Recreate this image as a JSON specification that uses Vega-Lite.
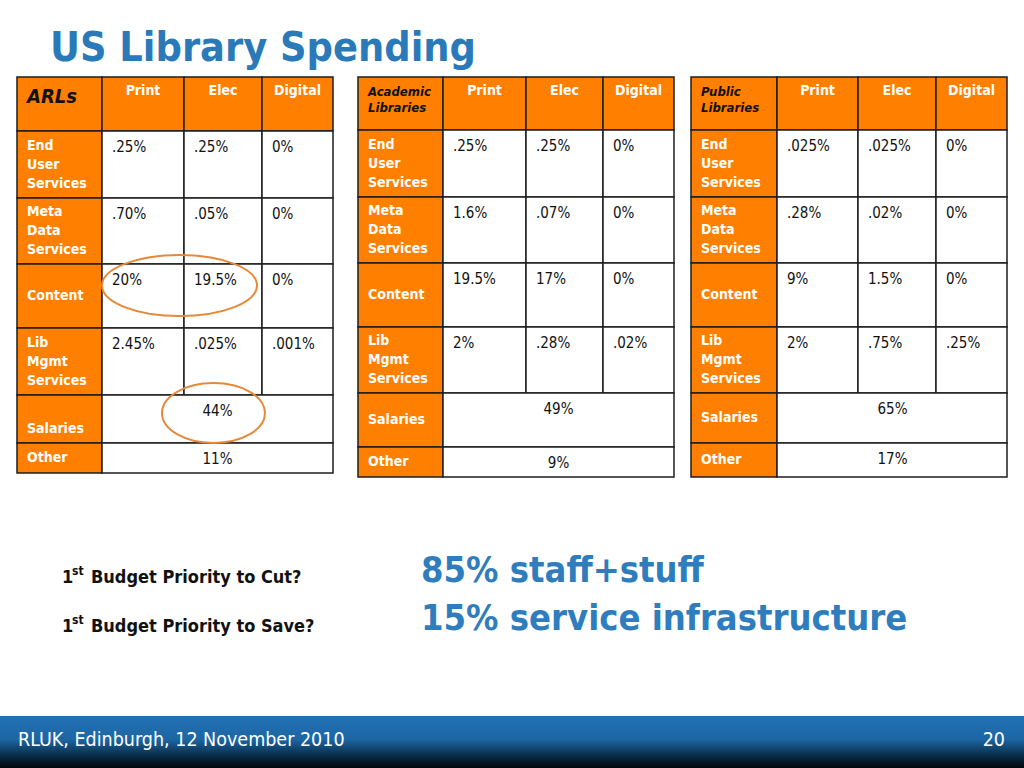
{
  "$schema": "https://vega.github.io/schema/vega-lite/v6.json",
  "width": 1024,
  "height": 768,
  "autosize": "none",
  "padding": 0,
  "background": "#ffffff",
  "config": {"view": {"stroke": null}},
  "datasets": {
    "cells": [
      {"t": "ARLs", "kind": "corner", "c0": 0, "c1": 1, "r0": 0, "r1": 1, "txt": "ARLs"},
      {"t": "ARLs", "kind": "head", "c0": 1, "c1": 2, "cm": 1.5, "r0": 0, "r1": 1, "txt": "Print"},
      {"t": "ARLs", "kind": "head", "c0": 2, "c1": 3, "cm": 2.5, "r0": 0, "r1": 1, "txt": "Elec"},
      {"t": "ARLs", "kind": "head", "c0": 3, "c1": 4, "cm": 3.5, "r0": 0, "r1": 1, "txt": "Digital"},
      {"t": "ARLs", "kind": "label", "c0": 0, "c1": 1, "r0": 1, "r1": 2, "rm": 1.5, "txt": "End\nUser\nServices"},
      {"t": "ARLs", "kind": "value", "c0": 1, "c1": 2, "r0": 1, "r1": 2, "txt": ".25%"},
      {"t": "ARLs", "kind": "value", "c0": 2, "c1": 3, "r0": 1, "r1": 2, "txt": ".25%"},
      {"t": "ARLs", "kind": "value", "c0": 3, "c1": 4, "r0": 1, "r1": 2, "txt": "0%"},
      {"t": "ARLs", "kind": "label", "c0": 0, "c1": 1, "r0": 2, "r1": 3, "rm": 2.5, "txt": "Meta\nData\nServices"},
      {"t": "ARLs", "kind": "value", "c0": 1, "c1": 2, "r0": 2, "r1": 3, "txt": ".70%"},
      {"t": "ARLs", "kind": "value", "c0": 2, "c1": 3, "r0": 2, "r1": 3, "txt": ".05%"},
      {"t": "ARLs", "kind": "value", "c0": 3, "c1": 4, "r0": 2, "r1": 3, "txt": "0%"},
      {"t": "ARLs", "kind": "label", "c0": 0, "c1": 1, "r0": 3, "r1": 4, "rm": 3.5, "txt": "Content"},
      {"t": "ARLs", "kind": "value", "c0": 1, "c1": 2, "r0": 3, "r1": 4, "txt": "20%"},
      {"t": "ARLs", "kind": "value", "c0": 2, "c1": 3, "r0": 3, "r1": 4, "txt": "19.5%"},
      {"t": "ARLs", "kind": "value", "c0": 3, "c1": 4, "r0": 3, "r1": 4, "txt": "0%"},
      {"t": "ARLs", "kind": "label", "c0": 0, "c1": 1, "r0": 4, "r1": 5, "rm": 4.5, "txt": "Lib\nMgmt\nServices"},
      {"t": "ARLs", "kind": "value", "c0": 1, "c1": 2, "r0": 4, "r1": 5, "txt": "2.45%"},
      {"t": "ARLs", "kind": "value", "c0": 2, "c1": 3, "r0": 4, "r1": 5, "txt": ".025%"},
      {"t": "ARLs", "kind": "value", "c0": 3, "c1": 4, "r0": 4, "r1": 5, "txt": ".001%"},
      {"t": "ARLs", "kind": "label", "c0": 0, "c1": 1, "r0": 5, "r1": 6, "rm": 5.5, "txt": "\nSalaries"},
      {"t": "ARLs", "kind": "merged", "c0": 1, "c1": 4, "r0": 5, "r1": 6, "txt": "44%"},
      {"t": "ARLs", "kind": "label", "c0": 0, "c1": 1, "r0": 6, "r1": 7, "rm": 6.5, "txt": "Other"},
      {"t": "ARLs", "kind": "merged", "c0": 1, "c1": 4, "r0": 6, "r1": 7, "txt": "11%"},

      {"t": "Academic", "kind": "corner", "c0": 0, "c1": 1, "r0": 0, "r1": 1, "txt": "Academic\nLibraries"},
      {"t": "Academic", "kind": "head", "c0": 1, "c1": 2, "cm": 1.5, "r0": 0, "r1": 1, "txt": "Print"},
      {"t": "Academic", "kind": "head", "c0": 2, "c1": 3, "cm": 2.5, "r0": 0, "r1": 1, "txt": "Elec"},
      {"t": "Academic", "kind": "head", "c0": 3, "c1": 4, "cm": 3.5, "r0": 0, "r1": 1, "txt": "Digital"},
      {"t": "Academic", "kind": "label", "c0": 0, "c1": 1, "r0": 1, "r1": 2, "rm": 1.5, "txt": "End\nUser\nServices"},
      {"t": "Academic", "kind": "value", "c0": 1, "c1": 2, "r0": 1, "r1": 2, "txt": ".25%"},
      {"t": "Academic", "kind": "value", "c0": 2, "c1": 3, "r0": 1, "r1": 2, "txt": ".25%"},
      {"t": "Academic", "kind": "value", "c0": 3, "c1": 4, "r0": 1, "r1": 2, "txt": "0%"},
      {"t": "Academic", "kind": "label", "c0": 0, "c1": 1, "r0": 2, "r1": 3, "rm": 2.5, "txt": "Meta\nData\nServices"},
      {"t": "Academic", "kind": "value", "c0": 1, "c1": 2, "r0": 2, "r1": 3, "txt": "1.6%"},
      {"t": "Academic", "kind": "value", "c0": 2, "c1": 3, "r0": 2, "r1": 3, "txt": ".07%"},
      {"t": "Academic", "kind": "value", "c0": 3, "c1": 4, "r0": 2, "r1": 3, "txt": "0%"},
      {"t": "Academic", "kind": "label", "c0": 0, "c1": 1, "r0": 3, "r1": 4, "rm": 3.5, "txt": "Content"},
      {"t": "Academic", "kind": "value", "c0": 1, "c1": 2, "r0": 3, "r1": 4, "txt": "19.5%"},
      {"t": "Academic", "kind": "value", "c0": 2, "c1": 3, "r0": 3, "r1": 4, "txt": "17%"},
      {"t": "Academic", "kind": "value", "c0": 3, "c1": 4, "r0": 3, "r1": 4, "txt": "0%"},
      {"t": "Academic", "kind": "label", "c0": 0, "c1": 1, "r0": 4, "r1": 5, "rm": 4.5, "txt": "Lib\nMgmt\nServices"},
      {"t": "Academic", "kind": "value", "c0": 1, "c1": 2, "r0": 4, "r1": 5, "txt": "2%"},
      {"t": "Academic", "kind": "value", "c0": 2, "c1": 3, "r0": 4, "r1": 5, "txt": ".28%"},
      {"t": "Academic", "kind": "value", "c0": 3, "c1": 4, "r0": 4, "r1": 5, "txt": ".02%"},
      {"t": "Academic", "kind": "label", "c0": 0, "c1": 1, "r0": 5, "r1": 6, "rm": 5.5, "txt": "Salaries"},
      {"t": "Academic", "kind": "merged", "c0": 1, "c1": 4, "r0": 5, "r1": 6, "txt": "49%"},
      {"t": "Academic", "kind": "label", "c0": 0, "c1": 1, "r0": 6, "r1": 7, "rm": 6.5, "txt": "Other"},
      {"t": "Academic", "kind": "merged", "c0": 1, "c1": 4, "r0": 6, "r1": 7, "txt": "9%"},

      {"t": "Public", "kind": "corner", "c0": 0, "c1": 1, "r0": 0, "r1": 1, "txt": "Public\nLibraries"},
      {"t": "Public", "kind": "head", "c0": 1, "c1": 2, "cm": 1.5, "r0": 0, "r1": 1, "txt": "Print"},
      {"t": "Public", "kind": "head", "c0": 2, "c1": 3, "cm": 2.5, "r0": 0, "r1": 1, "txt": "Elec"},
      {"t": "Public", "kind": "head", "c0": 3, "c1": 4, "cm": 3.5, "r0": 0, "r1": 1, "txt": "Digital"},
      {"t": "Public", "kind": "label", "c0": 0, "c1": 1, "r0": 1, "r1": 2, "rm": 1.5, "txt": "End\nUser\nServices"},
      {"t": "Public", "kind": "value", "c0": 1, "c1": 2, "r0": 1, "r1": 2, "txt": ".025%"},
      {"t": "Public", "kind": "value", "c0": 2, "c1": 3, "r0": 1, "r1": 2, "txt": ".025%"},
      {"t": "Public", "kind": "value", "c0": 3, "c1": 4, "r0": 1, "r1": 2, "txt": "0%"},
      {"t": "Public", "kind": "label", "c0": 0, "c1": 1, "r0": 2, "r1": 3, "rm": 2.5, "txt": "Meta\nData\nServices"},
      {"t": "Public", "kind": "value", "c0": 1, "c1": 2, "r0": 2, "r1": 3, "txt": ".28%"},
      {"t": "Public", "kind": "value", "c0": 2, "c1": 3, "r0": 2, "r1": 3, "txt": ".02%"},
      {"t": "Public", "kind": "value", "c0": 3, "c1": 4, "r0": 2, "r1": 3, "txt": "0%"},
      {"t": "Public", "kind": "label", "c0": 0, "c1": 1, "r0": 3, "r1": 4, "rm": 3.5, "txt": "Content"},
      {"t": "Public", "kind": "value", "c0": 1, "c1": 2, "r0": 3, "r1": 4, "txt": "9%"},
      {"t": "Public", "kind": "value", "c0": 2, "c1": 3, "r0": 3, "r1": 4, "txt": "1.5%"},
      {"t": "Public", "kind": "value", "c0": 3, "c1": 4, "r0": 3, "r1": 4, "txt": "0%"},
      {"t": "Public", "kind": "label", "c0": 0, "c1": 1, "r0": 4, "r1": 5, "rm": 4.5, "txt": "Lib\nMgmt\nServices"},
      {"t": "Public", "kind": "value", "c0": 1, "c1": 2, "r0": 4, "r1": 5, "txt": "2%"},
      {"t": "Public", "kind": "value", "c0": 2, "c1": 3, "r0": 4, "r1": 5, "txt": ".75%"},
      {"t": "Public", "kind": "value", "c0": 3, "c1": 4, "r0": 4, "r1": 5, "txt": ".25%"},
      {"t": "Public", "kind": "label", "c0": 0, "c1": 1, "r0": 5, "r1": 6, "rm": 5.5, "txt": "Salaries"},
      {"t": "Public", "kind": "merged", "c0": 1, "c1": 4, "r0": 5, "r1": 6, "txt": "65%"},
      {"t": "Public", "kind": "label", "c0": 0, "c1": 1, "r0": 6, "r1": 7, "rm": 6.5, "txt": "Other"},
      {"t": "Public", "kind": "merged", "c0": 1, "c1": 4, "r0": 6, "r1": 7, "txt": "17%"}
    ],
    "rings": [
      {"t": "ARLs", "ring": "Content print and elec", "cx": 1.945, "cy": 3.336},
      {"t": "ARLs", "ring": "Salaries", "cx": 2.378, "cy": 5.375}
    ],
    "slide": [
      {"role": "bar", "gx": 0, "gx2": 8, "gy": 6, "gy2": 8},
      {"role": "title", "txt": "US Library Spending", "gx": 2, "gy": 1},
      {"role": "lead", "txt": "1", "gx": 3, "gy": 3},
      {"role": "sup", "txt": "st", "gx": 4, "gy": 3},
      {"role": "lead", "txt": "Budget Priority to Cut?", "gx": 5, "gy": 3},
      {"role": "lead", "txt": "1", "gx": 3, "gy": 5},
      {"role": "sup", "txt": "st", "gx": 4, "gy": 5},
      {"role": "lead", "txt": "Budget Priority to Save?", "gx": 5, "gy": 5},
      {"role": "big", "txt": "85% staff+stuff", "gx": 6, "gy": 2},
      {"role": "big", "txt": "15% service infrastructure", "gx": 6, "gy": 4},
      {"role": "foot", "txt": "RLUK, Edinburgh, 12 November 2010", "gx": 1, "gy": 7},
      {"role": "page", "txt": "20", "gx": 7, "gy": 7}
    ]
  },
  "layer": [
    {
      "data": {"name": "cells"},
      "transform": [{"filter": {"field": "t", "equal": "ARLs"}}],
      "layer": [
        {
          "mark": {"type": "rect", "stroke": "#1e1e1e", "strokeWidth": 1.5},
          "encoding": {
            "x": {"field": "c0", "type": "quantitative", "scale": {"domain": [0, 1, 2, 3, 4], "range": [17, 102, 184, 262, 333], "nice": false, "zero": false}, "axis": null},
            "x2": {"field": "c1"},
            "y": {"field": "r0", "type": "quantitative", "scale": {"domain": [0, 1, 2, 3, 4, 5, 6, 7], "range": [77, 131, 198, 264, 328, 395, 443, 473], "nice": false, "zero": false}, "axis": null},
            "y2": {"field": "r1"},
            "fill": {"field": "kind", "type": "nominal", "scale": {"domain": ["corner", "head", "label", "value", "merged"], "range": ["#FF7F00", "#FF7F00", "#FF7F00", "#ffffff", "#ffffff"]}, "legend": null}
          }
        },
        {
          "transform": [{"filter": {"field": "kind", "equal": "head"}}],
          "mark": {"type": "text", "font": "DejaVu Sans Condensed, DejaVu Sans, sans-serif", "fontWeight": "bold", "fontSize": 14, "color": "#ffffff", "align": "center", "baseline": "top", "dy": 7},
          "encoding": {
            "x": {"field": "cm", "type": "quantitative", "scale": {"domain": [0, 1, 2, 3, 4], "range": [17, 102, 184, 262, 333], "nice": false, "zero": false}, "axis": null},
            "y": {"field": "r0", "type": "quantitative", "scale": {"domain": [0, 1, 2, 3, 4, 5, 6, 7], "range": [77, 131, 198, 264, 328, 395, 443, 473], "nice": false, "zero": false}, "axis": null},
            "text": {"field": "txt"}
          }
        },
        {
          "transform": [{"filter": {"and": [{"field": "kind", "equal": "label"}, {"field": "txt", "oneOf": ["Content", "Salaries", "Other"]}]}}],
          "mark": {"type": "text", "font": "DejaVu Sans Condensed, DejaVu Sans, sans-serif", "fontWeight": "bold", "fontSize": 14, "color": "#ffffff", "align": "left", "baseline": "middle", "dx": 10, "lineBreak": "\n", "lineHeight": 19},
          "encoding": {
            "x": {"field": "c0", "type": "quantitative", "scale": {"domain": [0, 1, 2, 3, 4], "range": [17, 102, 184, 262, 333], "nice": false, "zero": false}, "axis": null},
            "y": {"field": "rm", "type": "quantitative", "scale": {"domain": [0, 1, 2, 3, 4, 5, 6, 7], "range": [77, 131, 198, 264, 328, 395, 443, 473], "nice": false, "zero": false}, "axis": null},
            "text": {"field": "txt"}
          }
        },
        {
          "transform": [{"filter": {"and": [{"field": "kind", "equal": "label"}, {"field": "txt", "equal": "\nSalaries"}]}}],
          "mark": {"type": "text", "font": "DejaVu Sans Condensed, DejaVu Sans, sans-serif", "fontWeight": "bold", "fontSize": 14, "color": "#ffffff", "align": "left", "baseline": "middle", "dx": 10, "dy": -9.5, "lineBreak": "\n", "lineHeight": 19},
          "encoding": {
            "x": {"field": "c0", "type": "quantitative", "scale": {"domain": [0, 1, 2, 3, 4], "range": [17, 102, 184, 262, 333], "nice": false, "zero": false}, "axis": null},
            "y": {"field": "rm", "type": "quantitative", "scale": {"domain": [0, 1, 2, 3, 4, 5, 6, 7], "range": [77, 131, 198, 264, 328, 395, 443, 473], "nice": false, "zero": false}, "axis": null},
            "text": {"field": "txt"}
          }
        },
        {
          "transform": [{"filter": {"and": [{"field": "kind", "equal": "label"}, {"field": "txt", "oneOf": ["End\nUser\nServices", "Meta\nData\nServices", "Lib\nMgmt\nServices"]}]}}],
          "mark": {"type": "text", "font": "DejaVu Sans Condensed, DejaVu Sans, sans-serif", "fontWeight": "bold", "fontSize": 14, "color": "#ffffff", "align": "left", "baseline": "middle", "dx": 10, "dy": -19, "lineBreak": "\n", "lineHeight": 19},
          "encoding": {
            "x": {"field": "c0", "type": "quantitative", "scale": {"domain": [0, 1, 2, 3, 4], "range": [17, 102, 184, 262, 333], "nice": false, "zero": false}, "axis": null},
            "y": {"field": "rm", "type": "quantitative", "scale": {"domain": [0, 1, 2, 3, 4, 5, 6, 7], "range": [77, 131, 198, 264, 328, 395, 443, 473], "nice": false, "zero": false}, "axis": null},
            "text": {"field": "txt"}
          }
        },
        {
          "transform": [{"filter": {"field": "kind", "equal": "value"}}],
          "mark": {"type": "text", "font": "DejaVu Sans Condensed, DejaVu Sans, sans-serif", "fontSize": 15, "color": "#111111", "align": "left", "baseline": "top", "dx": 10, "dy": 8.5},
          "encoding": {
            "x": {"field": "c0", "type": "quantitative", "scale": {"domain": [0, 1, 2, 3, 4], "range": [17, 102, 184, 262, 333], "nice": false, "zero": false}, "axis": null},
            "y": {"field": "r0", "type": "quantitative", "scale": {"domain": [0, 1, 2, 3, 4, 5, 6, 7], "range": [77, 131, 198, 264, 328, 395, 443, 473], "nice": false, "zero": false}, "axis": null},
            "text": {"field": "txt"}
          }
        },
        {
          "transform": [{"filter": {"field": "kind", "equal": "merged"}}],
          "mark": {"type": "text", "font": "DejaVu Sans Condensed, DejaVu Sans, sans-serif", "fontSize": 15, "color": "#111111", "align": "center", "baseline": "top", "dx": 115.5, "dy": 8.5},
          "encoding": {
            "x": {"field": "c0", "type": "quantitative", "scale": {"domain": [0, 1, 2, 3, 4], "range": [17, 102, 184, 262, 333], "nice": false, "zero": false}, "axis": null},
            "y": {"field": "r0", "type": "quantitative", "scale": {"domain": [0, 1, 2, 3, 4, 5, 6, 7], "range": [77, 131, 198, 264, 328, 395, 443, 473], "nice": false, "zero": false}, "axis": null},
            "text": {"field": "txt"}
          }
        },
        {
          "transform": [{"filter": {"field": "kind", "equal": "corner"}}],
          "mark": {"type": "text", "font": "DejaVu Sans Condensed, DejaVu Sans, sans-serif", "fontWeight": "bold", "fontStyle": "italic", "fontSize": 20, "color": "#111111", "align": "left", "baseline": "alphabetic", "dx": 10, "dy": 26},
          "encoding": {
            "x": {"field": "c0", "type": "quantitative", "scale": {"domain": [0, 1, 2, 3, 4], "range": [17, 102, 184, 262, 333], "nice": false, "zero": false}, "axis": null},
            "y": {"field": "r0", "type": "quantitative", "scale": {"domain": [0, 1, 2, 3, 4, 5, 6, 7], "range": [77, 131, 198, 264, 328, 395, 443, 473], "nice": false, "zero": false}, "axis": null},
            "text": {"field": "txt"}
          }
        },
        {
          "data": {"name": "rings"},
          "transform": [{"filter": {"field": "ring", "equal": "Content print and elec"}}],
          "mark": {"type": "point", "filled": false, "opacity": 1, "stroke": "#E5893B", "strokeWidth": 2, "size": 24025, "shape": "M -1 0 A 1 0.394 0 1 1 1 0 A 1 0.394 0 1 1 -1 0 Z"},
          "encoding": {
            "x": {"field": "cx", "type": "quantitative", "scale": {"domain": [0, 1, 2, 3, 4], "range": [17, 102, 184, 262, 333], "nice": false, "zero": false}, "axis": null},
            "y": {"field": "cy", "type": "quantitative", "scale": {"domain": [0, 1, 2, 3, 4, 5, 6, 7], "range": [77, 131, 198, 264, 328, 395, 443, 473], "nice": false, "zero": false}, "axis": null}
          }
        },
        {
          "data": {"name": "rings"},
          "transform": [{"filter": {"field": "ring", "equal": "Salaries"}}],
          "mark": {"type": "point", "filled": false, "opacity": 1, "stroke": "#E5893B", "strokeWidth": 2, "size": 10609, "shape": "M -1 0 A 1 0.583 0 1 1 1 0 A 1 0.583 0 1 1 -1 0 Z"},
          "encoding": {
            "x": {"field": "cx", "type": "quantitative", "scale": {"domain": [0, 1, 2, 3, 4], "range": [17, 102, 184, 262, 333], "nice": false, "zero": false}, "axis": null},
            "y": {"field": "cy", "type": "quantitative", "scale": {"domain": [0, 1, 2, 3, 4, 5, 6, 7], "range": [77, 131, 198, 264, 328, 395, 443, 473], "nice": false, "zero": false}, "axis": null}
          }
        }
      ]
    },
    {
      "data": {"name": "cells"},
      "transform": [{"filter": {"field": "t", "equal": "Academic"}}],
      "layer": [
        {
          "mark": {"type": "rect", "stroke": "#1e1e1e", "strokeWidth": 1.5},
          "encoding": {
            "x": {"field": "c0", "type": "quantitative", "scale": {"domain": [0, 1, 2, 3, 4], "range": [358, 443, 526, 603, 674], "nice": false, "zero": false}, "axis": null},
            "x2": {"field": "c1"},
            "y": {"field": "r0", "type": "quantitative", "scale": {"domain": [0, 1, 2, 3, 4, 5, 6, 7], "range": [77, 130, 197, 263, 327, 393, 447, 477], "nice": false, "zero": false}, "axis": null},
            "y2": {"field": "r1"},
            "fill": {"field": "kind", "type": "nominal", "scale": {"domain": ["corner", "head", "label", "value", "merged"], "range": ["#FF7F00", "#FF7F00", "#FF7F00", "#ffffff", "#ffffff"]}, "legend": null}
          }
        },
        {
          "transform": [{"filter": {"field": "kind", "equal": "head"}}],
          "mark": {"type": "text", "font": "DejaVu Sans Condensed, DejaVu Sans, sans-serif", "fontWeight": "bold", "fontSize": 14, "color": "#ffffff", "align": "center", "baseline": "top", "dy": 7},
          "encoding": {
            "x": {"field": "cm", "type": "quantitative", "scale": {"domain": [0, 1, 2, 3, 4], "range": [358, 443, 526, 603, 674], "nice": false, "zero": false}, "axis": null},
            "y": {"field": "r0", "type": "quantitative", "scale": {"domain": [0, 1, 2, 3, 4, 5, 6, 7], "range": [77, 130, 197, 263, 327, 393, 447, 477], "nice": false, "zero": false}, "axis": null},
            "text": {"field": "txt"}
          }
        },
        {
          "transform": [{"filter": {"and": [{"field": "kind", "equal": "label"}, {"field": "txt", "oneOf": ["Content", "Salaries", "Other"]}]}}],
          "mark": {"type": "text", "font": "DejaVu Sans Condensed, DejaVu Sans, sans-serif", "fontWeight": "bold", "fontSize": 14, "color": "#ffffff", "align": "left", "baseline": "middle", "dx": 10, "lineBreak": "\n", "lineHeight": 19},
          "encoding": {
            "x": {"field": "c0", "type": "quantitative", "scale": {"domain": [0, 1, 2, 3, 4], "range": [358, 443, 526, 603, 674], "nice": false, "zero": false}, "axis": null},
            "y": {"field": "rm", "type": "quantitative", "scale": {"domain": [0, 1, 2, 3, 4, 5, 6, 7], "range": [77, 130, 197, 263, 327, 393, 447, 477], "nice": false, "zero": false}, "axis": null},
            "text": {"field": "txt"}
          }
        },
        {
          "transform": [{"filter": {"and": [{"field": "kind", "equal": "label"}, {"field": "txt", "oneOf": ["End\nUser\nServices", "Meta\nData\nServices", "Lib\nMgmt\nServices"]}]}}],
          "mark": {"type": "text", "font": "DejaVu Sans Condensed, DejaVu Sans, sans-serif", "fontWeight": "bold", "fontSize": 14, "color": "#ffffff", "align": "left", "baseline": "middle", "dx": 10, "dy": -19, "lineBreak": "\n", "lineHeight": 19},
          "encoding": {
            "x": {"field": "c0", "type": "quantitative", "scale": {"domain": [0, 1, 2, 3, 4], "range": [358, 443, 526, 603, 674], "nice": false, "zero": false}, "axis": null},
            "y": {"field": "rm", "type": "quantitative", "scale": {"domain": [0, 1, 2, 3, 4, 5, 6, 7], "range": [77, 130, 197, 263, 327, 393, 447, 477], "nice": false, "zero": false}, "axis": null},
            "text": {"field": "txt"}
          }
        },
        {
          "transform": [{"filter": {"field": "kind", "equal": "value"}}],
          "mark": {"type": "text", "font": "DejaVu Sans Condensed, DejaVu Sans, sans-serif", "fontSize": 15, "color": "#111111", "align": "left", "baseline": "top", "dx": 10, "dy": 8.5},
          "encoding": {
            "x": {"field": "c0", "type": "quantitative", "scale": {"domain": [0, 1, 2, 3, 4], "range": [358, 443, 526, 603, 674], "nice": false, "zero": false}, "axis": null},
            "y": {"field": "r0", "type": "quantitative", "scale": {"domain": [0, 1, 2, 3, 4, 5, 6, 7], "range": [77, 130, 197, 263, 327, 393, 447, 477], "nice": false, "zero": false}, "axis": null},
            "text": {"field": "txt"}
          }
        },
        {
          "transform": [{"filter": {"field": "kind", "equal": "merged"}}],
          "mark": {"type": "text", "font": "DejaVu Sans Condensed, DejaVu Sans, sans-serif", "fontSize": 15, "color": "#111111", "align": "center", "baseline": "top", "dx": 115.5, "dy": 8.5},
          "encoding": {
            "x": {"field": "c0", "type": "quantitative", "scale": {"domain": [0, 1, 2, 3, 4], "range": [358, 443, 526, 603, 674], "nice": false, "zero": false}, "axis": null},
            "y": {"field": "r0", "type": "quantitative", "scale": {"domain": [0, 1, 2, 3, 4, 5, 6, 7], "range": [77, 130, 197, 263, 327, 393, 447, 477], "nice": false, "zero": false}, "axis": null},
            "text": {"field": "txt"}
          }
        },
        {
          "transform": [{"filter": {"field": "kind", "equal": "corner"}}],
          "mark": {"type": "text", "font": "DejaVu Sans Condensed, DejaVu Sans, sans-serif", "fontWeight": "bold", "fontStyle": "italic", "fontSize": 13, "color": "#111111", "align": "left", "baseline": "alphabetic", "dx": 10, "dy": 18.5, "lineBreak": "\n", "lineHeight": 16.5},
          "encoding": {
            "x": {"field": "c0", "type": "quantitative", "scale": {"domain": [0, 1, 2, 3, 4], "range": [358, 443, 526, 603, 674], "nice": false, "zero": false}, "axis": null},
            "y": {"field": "r0", "type": "quantitative", "scale": {"domain": [0, 1, 2, 3, 4, 5, 6, 7], "range": [77, 130, 197, 263, 327, 393, 447, 477], "nice": false, "zero": false}, "axis": null},
            "text": {"field": "txt"}
          }
        }
      ]
    },
    {
      "data": {"name": "cells"},
      "transform": [{"filter": {"field": "t", "equal": "Public"}}],
      "layer": [
        {
          "mark": {"type": "rect", "stroke": "#1e1e1e", "strokeWidth": 1.5},
          "encoding": {
            "x": {"field": "c0", "type": "quantitative", "scale": {"domain": [0, 1, 2, 3, 4], "range": [691, 777, 858, 936, 1007], "nice": false, "zero": false}, "axis": null},
            "x2": {"field": "c1"},
            "y": {"field": "r0", "type": "quantitative", "scale": {"domain": [0, 1, 2, 3, 4, 5, 6, 7], "range": [77, 130, 197, 263, 327, 393, 443, 477], "nice": false, "zero": false}, "axis": null},
            "y2": {"field": "r1"},
            "fill": {"field": "kind", "type": "nominal", "scale": {"domain": ["corner", "head", "label", "value", "merged"], "range": ["#FF7F00", "#FF7F00", "#FF7F00", "#ffffff", "#ffffff"]}, "legend": null}
          }
        },
        {
          "transform": [{"filter": {"field": "kind", "equal": "head"}}],
          "mark": {"type": "text", "font": "DejaVu Sans Condensed, DejaVu Sans, sans-serif", "fontWeight": "bold", "fontSize": 14, "color": "#ffffff", "align": "center", "baseline": "top", "dy": 7},
          "encoding": {
            "x": {"field": "cm", "type": "quantitative", "scale": {"domain": [0, 1, 2, 3, 4], "range": [691, 777, 858, 936, 1007], "nice": false, "zero": false}, "axis": null},
            "y": {"field": "r0", "type": "quantitative", "scale": {"domain": [0, 1, 2, 3, 4, 5, 6, 7], "range": [77, 130, 197, 263, 327, 393, 443, 477], "nice": false, "zero": false}, "axis": null},
            "text": {"field": "txt"}
          }
        },
        {
          "transform": [{"filter": {"and": [{"field": "kind", "equal": "label"}, {"field": "txt", "oneOf": ["Content", "Salaries", "Other"]}]}}],
          "mark": {"type": "text", "font": "DejaVu Sans Condensed, DejaVu Sans, sans-serif", "fontWeight": "bold", "fontSize": 14, "color": "#ffffff", "align": "left", "baseline": "middle", "dx": 10, "lineBreak": "\n", "lineHeight": 19},
          "encoding": {
            "x": {"field": "c0", "type": "quantitative", "scale": {"domain": [0, 1, 2, 3, 4], "range": [691, 777, 858, 936, 1007], "nice": false, "zero": false}, "axis": null},
            "y": {"field": "rm", "type": "quantitative", "scale": {"domain": [0, 1, 2, 3, 4, 5, 6, 7], "range": [77, 130, 197, 263, 327, 393, 443, 477], "nice": false, "zero": false}, "axis": null},
            "text": {"field": "txt"}
          }
        },
        {
          "transform": [{"filter": {"and": [{"field": "kind", "equal": "label"}, {"field": "txt", "oneOf": ["End\nUser\nServices", "Meta\nData\nServices", "Lib\nMgmt\nServices"]}]}}],
          "mark": {"type": "text", "font": "DejaVu Sans Condensed, DejaVu Sans, sans-serif", "fontWeight": "bold", "fontSize": 14, "color": "#ffffff", "align": "left", "baseline": "middle", "dx": 10, "dy": -19, "lineBreak": "\n", "lineHeight": 19},
          "encoding": {
            "x": {"field": "c0", "type": "quantitative", "scale": {"domain": [0, 1, 2, 3, 4], "range": [691, 777, 858, 936, 1007], "nice": false, "zero": false}, "axis": null},
            "y": {"field": "rm", "type": "quantitative", "scale": {"domain": [0, 1, 2, 3, 4, 5, 6, 7], "range": [77, 130, 197, 263, 327, 393, 443, 477], "nice": false, "zero": false}, "axis": null},
            "text": {"field": "txt"}
          }
        },
        {
          "transform": [{"filter": {"field": "kind", "equal": "value"}}],
          "mark": {"type": "text", "font": "DejaVu Sans Condensed, DejaVu Sans, sans-serif", "fontSize": 15, "color": "#111111", "align": "left", "baseline": "top", "dx": 10, "dy": 8.5},
          "encoding": {
            "x": {"field": "c0", "type": "quantitative", "scale": {"domain": [0, 1, 2, 3, 4], "range": [691, 777, 858, 936, 1007], "nice": false, "zero": false}, "axis": null},
            "y": {"field": "r0", "type": "quantitative", "scale": {"domain": [0, 1, 2, 3, 4, 5, 6, 7], "range": [77, 130, 197, 263, 327, 393, 443, 477], "nice": false, "zero": false}, "axis": null},
            "text": {"field": "txt"}
          }
        },
        {
          "transform": [{"filter": {"field": "kind", "equal": "merged"}}],
          "mark": {"type": "text", "font": "DejaVu Sans Condensed, DejaVu Sans, sans-serif", "fontSize": 15, "color": "#111111", "align": "center", "baseline": "top", "dx": 115.5, "dy": 8.5},
          "encoding": {
            "x": {"field": "c0", "type": "quantitative", "scale": {"domain": [0, 1, 2, 3, 4], "range": [691, 777, 858, 936, 1007], "nice": false, "zero": false}, "axis": null},
            "y": {"field": "r0", "type": "quantitative", "scale": {"domain": [0, 1, 2, 3, 4, 5, 6, 7], "range": [77, 130, 197, 263, 327, 393, 443, 477], "nice": false, "zero": false}, "axis": null},
            "text": {"field": "txt"}
          }
        },
        {
          "transform": [{"filter": {"field": "kind", "equal": "corner"}}],
          "mark": {"type": "text", "font": "DejaVu Sans Condensed, DejaVu Sans, sans-serif", "fontWeight": "bold", "fontStyle": "italic", "fontSize": 13, "color": "#111111", "align": "left", "baseline": "alphabetic", "dx": 10, "dy": 18.5, "lineBreak": "\n", "lineHeight": 16.5},
          "encoding": {
            "x": {"field": "c0", "type": "quantitative", "scale": {"domain": [0, 1, 2, 3, 4], "range": [691, 777, 858, 936, 1007], "nice": false, "zero": false}, "axis": null},
            "y": {"field": "r0", "type": "quantitative", "scale": {"domain": [0, 1, 2, 3, 4, 5, 6, 7], "range": [77, 130, 197, 263, 327, 393, 443, 477], "nice": false, "zero": false}, "axis": null},
            "text": {"field": "txt"}
          }
        }
      ]
    },
    {
      "data": {"name": "slide"},
      "layer": [
        {
          "transform": [{"filter": {"field": "role", "equal": "bar"}}],
          "mark": {"type": "rect", "color": {"gradient": "linear", "x1": 0, "y1": 0, "x2": 0, "y2": 1, "stops": [{"offset": 0, "color": "#2272B4"}, {"offset": 0.45, "color": "#1C66A4"}, {"offset": 0.75, "color": "#0A2E4A"}, {"offset": 1, "color": "#01070C"}]}},
          "encoding": {
            "x": {"field": "gx", "type": "quantitative", "scale": {"domain": [0, 1, 2, 3, 4, 5, 6, 7, 8], "range": [0, 18, 50, 62, 72, 91, 421, 1005, 1024], "nice": false, "zero": false}, "axis": null},
            "x2": {"field": "gx2"},
            "y": {"field": "gy", "type": "quantitative", "scale": {"domain": [0, 1, 2, 3, 4, 5, 6, 7, 8], "range": [0, 61, 582, 582.5, 630, 632, 716, 746, 768], "nice": false, "zero": false}, "axis": null},
            "y2": {"field": "gy2"}
          }
        },
        {
          "transform": [{"filter": {"field": "role", "equal": "title"}}],
          "mark": {"type": "text", "font": "DejaVu Sans Condensed, DejaVu Sans, sans-serif", "fontWeight": "bold", "fontSize": 41, "color": "#2A7AB9", "align": "left", "baseline": "alphabetic"},
          "encoding": {
            "x": {"field": "gx", "type": "quantitative", "scale": {"domain": [0, 1, 2, 3, 4, 5, 6, 7, 8], "range": [0, 18, 50, 62, 72, 91, 421, 1005, 1024], "nice": false, "zero": false}, "axis": null},
            "y": {"field": "gy", "type": "quantitative", "scale": {"domain": [0, 1, 2, 3, 4, 5, 6, 7, 8], "range": [0, 61, 582, 582.5, 630, 632, 716, 746, 768], "nice": false, "zero": false}, "axis": null},
            "text": {"field": "txt"}
          }
        },
        {
          "transform": [{"filter": {"field": "role", "equal": "lead"}}],
          "mark": {"type": "text", "font": "DejaVu Sans Condensed, DejaVu Sans, sans-serif", "fontWeight": "bold", "fontSize": 18, "color": "#111111", "align": "left", "baseline": "alphabetic"},
          "encoding": {
            "x": {"field": "gx", "type": "quantitative", "scale": {"domain": [0, 1, 2, 3, 4, 5, 6, 7, 8], "range": [0, 18, 50, 62, 72, 91, 421, 1005, 1024], "nice": false, "zero": false}, "axis": null},
            "y": {"field": "gy", "type": "quantitative", "scale": {"domain": [0, 1, 2, 3, 4, 5, 6, 7, 8], "range": [0, 61, 582, 582.5, 630, 632, 716, 746, 768], "nice": false, "zero": false}, "axis": null},
            "text": {"field": "txt"}
          }
        },
        {
          "transform": [{"filter": {"field": "role", "equal": "sup"}}],
          "mark": {"type": "text", "font": "DejaVu Sans Condensed, DejaVu Sans, sans-serif", "fontWeight": "bold", "fontSize": 12, "color": "#111111", "align": "left", "baseline": "alphabetic", "dy": -8},
          "encoding": {
            "x": {"field": "gx", "type": "quantitative", "scale": {"domain": [0, 1, 2, 3, 4, 5, 6, 7, 8], "range": [0, 18, 50, 62, 72, 91, 421, 1005, 1024], "nice": false, "zero": false}, "axis": null},
            "y": {"field": "gy", "type": "quantitative", "scale": {"domain": [0, 1, 2, 3, 4, 5, 6, 7, 8], "range": [0, 61, 582, 582.5, 630, 632, 716, 746, 768], "nice": false, "zero": false}, "axis": null},
            "text": {"field": "txt"}
          }
        },
        {
          "transform": [{"filter": {"field": "role", "equal": "big"}}],
          "mark": {"type": "text", "font": "DejaVu Sans Condensed, DejaVu Sans, sans-serif", "fontWeight": "bold", "fontSize": 36, "color": "#2F7DBD", "align": "left", "baseline": "alphabetic"},
          "encoding": {
            "x": {"field": "gx", "type": "quantitative", "scale": {"domain": [0, 1, 2, 3, 4, 5, 6, 7, 8], "range": [0, 18, 50, 62, 72, 91, 421, 1005, 1024], "nice": false, "zero": false}, "axis": null},
            "y": {"field": "gy", "type": "quantitative", "scale": {"domain": [0, 1, 2, 3, 4, 5, 6, 7, 8], "range": [0, 61, 582, 582.5, 630, 632, 716, 746, 768], "nice": false, "zero": false}, "axis": null},
            "text": {"field": "txt"}
          }
        },
        {
          "transform": [{"filter": {"field": "role", "equal": "foot"}}],
          "mark": {"type": "text", "font": "DejaVu Sans Condensed, DejaVu Sans, sans-serif", "fontSize": 19.5, "color": "#ffffff", "align": "left", "baseline": "alphabetic"},
          "encoding": {
            "x": {"field": "gx", "type": "quantitative", "scale": {"domain": [0, 1, 2, 3, 4, 5, 6, 7, 8], "range": [0, 18, 50, 62, 72, 91, 421, 1005, 1024], "nice": false, "zero": false}, "axis": null},
            "y": {"field": "gy", "type": "quantitative", "scale": {"domain": [0, 1, 2, 3, 4, 5, 6, 7, 8], "range": [0, 61, 582, 582.5, 630, 632, 716, 746, 768], "nice": false, "zero": false}, "axis": null},
            "text": {"field": "txt"}
          }
        },
        {
          "transform": [{"filter": {"field": "role", "equal": "page"}}],
          "mark": {"type": "text", "font": "DejaVu Sans Condensed, DejaVu Sans, sans-serif", "fontSize": 19.5, "color": "#ffffff", "align": "right", "baseline": "alphabetic"},
          "encoding": {
            "x": {"field": "gx", "type": "quantitative", "scale": {"domain": [0, 1, 2, 3, 4, 5, 6, 7, 8], "range": [0, 18, 50, 62, 72, 91, 421, 1005, 1024], "nice": false, "zero": false}, "axis": null},
            "y": {"field": "gy", "type": "quantitative", "scale": {"domain": [0, 1, 2, 3, 4, 5, 6, 7, 8], "range": [0, 61, 582, 582.5, 630, 632, 716, 746, 768], "nice": false, "zero": false}, "axis": null},
            "text": {"field": "txt"}
          }
        }
      ]
    }
  ],
  "resolve": {"scale": {"x": "independent", "y": "independent"}}
}
